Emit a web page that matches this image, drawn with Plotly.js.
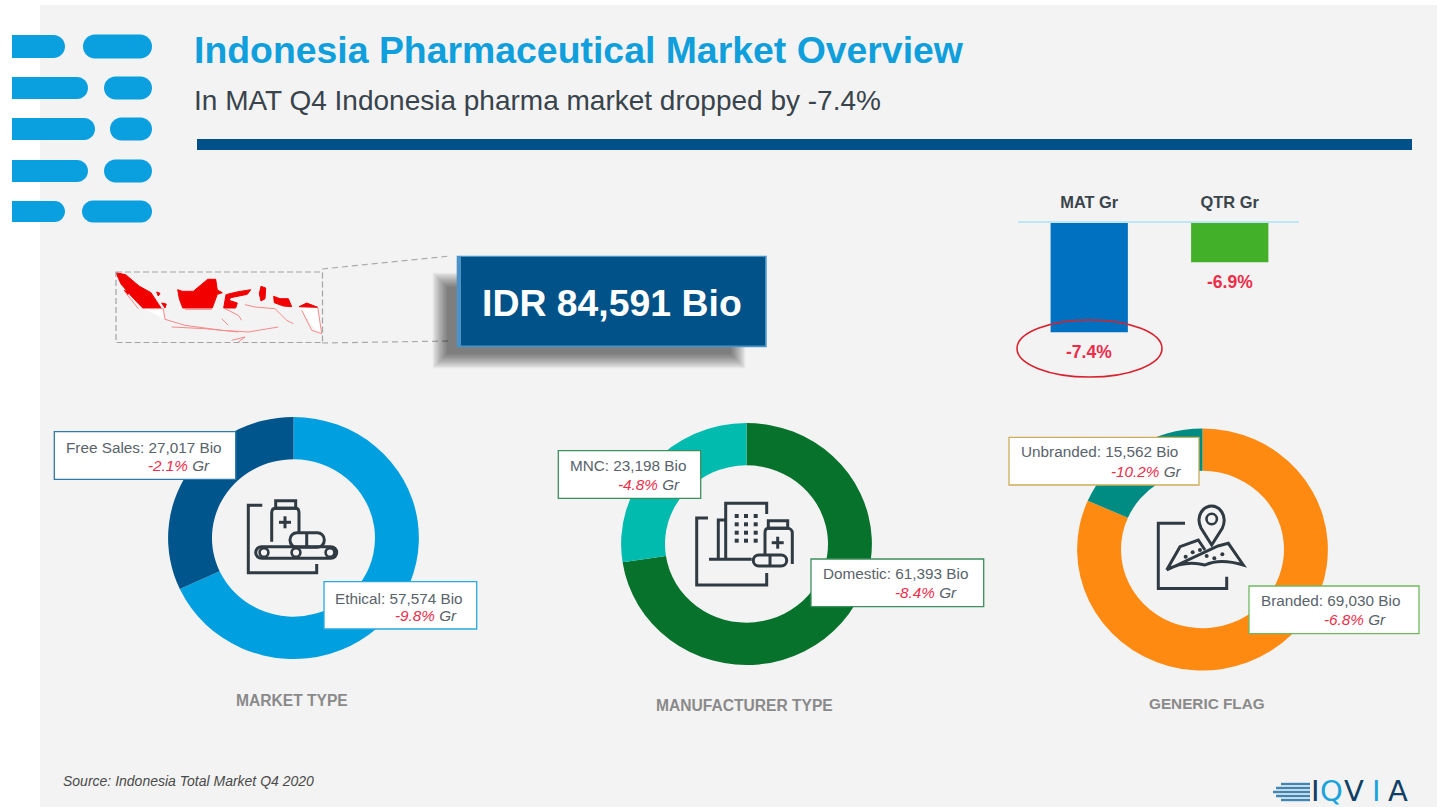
<!DOCTYPE html>
<html>
<head>
<meta charset="utf-8">
<script src="https://cdn.plot.ly/plotly-3.0.1.min.js"></script>
<style>html,body{margin:0;padding:0;background:#fff}#c{width:1437px;height:807px}</style>
</head>
<body>
<div id="c"></div>
<script>
// ---- data ----
const marketTypeLabels = ['Ethical', 'Free Sales'];
const marketTypeValues = [57574, 27017];
const marketTypeGrowth = ['-9.8%', '-2.1%'];
const marketTypeColors = ['#009FDF', '#00558C'];

const manufacturerLabels = ['Domestic', 'MNC'];
const manufacturerValues = [61393, 23198];
const manufacturerGrowth = ['-8.4%', '-4.8%'];
const manufacturerColors = ['#06722B', '#00BBAE'];

const genericLabels = ['Branded', 'Unbranded'];
const genericValues = [69030, 15562];
const genericGrowth = ['-6.8%', '-10.2%'];
const genericColors = ['#FF8A12', '#008C82'];

const growthCategories = ['MAT Gr', 'QTR Gr'];
const growthValues = [-7.4, -6.9];
const growthColors = ['#0070C0', '#43B02A'];

const titleText = 'Indonesia Pharmaceutical Market Overview';
const subtitleText = 'In MAT Q4 Indonesia pharma market dropped by -7.4%';
const totalText = 'IDR 84,591 Bio';
const sourceText = 'Source: Indonesia Total Market Q4 2020';
const groupNames = ['MARKET TYPE', 'MANUFACTURER TYPE', 'GENERIC FLAG'];

// ---- helpers: page pixels to paper coordinates ----
const W = 1437, H = 807, FONT = 'Liberation Sans, Arial, sans-serif';
const RED = '#EC2D4A', INK = '#2F3A42';
const px = x => x / W, py = y => 1 - y / H;
const P = d => d.replace(/(-?[\d.]+)[ ,](-?[\d.]+)/g, (m, a, b) => px(+a).toFixed(6) + ',' + py(+b).toFixed(6));
const shapes = [], notes = [];
const rect = (x0, y0, x1, y1, fill, line, lw, layer, op) => shapes.push({type:'rect', xref:'paper', yref:'paper',
  x0:px(x0), x1:px(x1), y0:py(y0), y1:py(y1), fillcolor:fill || 'rgba(0,0,0,0)',
  line:{color:line || 'rgba(0,0,0,0)', width:lw || 0}, layer:layer || 'above', opacity:op === undefined ? 1 : op});
const circ = (cx, cy, rx, ry, fill, line, lw) => shapes.push({type:'circle', xref:'paper', yref:'paper',
  x0:px(cx-rx), x1:px(cx+rx), y0:py(cy+ry), y1:py(cy-ry), fillcolor:fill || 'rgba(0,0,0,0)',
  line:{color:line || 'rgba(0,0,0,0)', width:lw || 0}, layer:'above'});
const path = (d, fill, line, lw, dash) => shapes.push({type:'path', xref:'paper', yref:'paper', path:P(d),
  fillcolor:fill || 'rgba(0,0,0,0)', line:{color:line || 'rgba(0,0,0,0)', width:lw || 0, dash:dash || 'solid'}, layer:'above'});
const T = (text, x, y, size, color, anchor, extra) => notes.push(Object.assign({xref:'paper', yref:'paper',
  x:px(x), y:py(y), text, showarrow:false, xanchor:anchor || 'left', yanchor:'middle', borderpad:0,
  font:{family:FONT, size, color}}, extra || {}));
const roundRect = (x0, y0, x1, y1, r) => {
  const k = r * 0.45;
  return `M${x0+r} ${y0} L${x1-r} ${y0} C${x1-k} ${y0} ${x1} ${y0+k} ${x1} ${y0+r} L${x1} ${y1-r} C${x1} ${y1-k} ${x1-k} ${y1} ${x1-r} ${y1} L${x0+r} ${y1} C${x0+k} ${y1} ${x0} ${y1-k} ${x0} ${y1-r} L${x0} ${y0+r} C${x0} ${y0+k} ${x0+k} ${y0} ${x0+r} ${y0} Z`;
};
const flatPill = (x0, y0, x1, y1) => {
  const r = (y1-y0)/2, k = r*0.45;
  return `M${x0} ${y0} L${x1-r} ${y0} C${x1-k} ${y0} ${x1} ${y0+k} ${x1} ${y0+r} C${x1} ${y1-k} ${x1-k} ${y1} ${x1-r} ${y1} L${x0} ${y1} Z`;
};

// ---- slide background ----
rect(40, 5, W, H, '#F3F3F3', null, 0, 'below');

// ---- logo pills ----
const BLUE = '#0A9FDF';
[[12,65,35,58,83,152],[12,88,77,99,104,152],[12,95,118,140,110,152],[12,88,160,182,104,152],[12,65,201,222,82,152]]
.forEach(r => {
  path(flatPill(r[0], r[2], r[1], r[3]), BLUE);
  path(roundRect(r[4], r[2]-0.5, r[5], r[3]+0.5, (r[3]-r[2]+1)/2), BLUE);
});

// ---- header ----
T(titleText, 193, 50, 37.4, '#0F9FDC', 'left', {font:{family:FONT, size:37.4, color:'#0F9FDC', weight:700}});
T(subtitleText, 193, 100, 28, '#38434B');
rect(197, 139, 1412, 150, '#00508A');

// ---- map ----
const MAPRED = '#F20000';
const mp = pts => 'M' + pts.map(p => (105+p[0]/3).toFixed(1) + ' ' + (262+p[1]/3).toFixed(1)).join(' L') ;
path(mp([[585,138],[640,138],[650,215],[620,190]]) + ' Z', '#FFFFFF');
path(mp([[115,138],[175,138],[175,170]]) + ' Z', '#FFFFFF');
const mapFill = [
  [[33,32],[62,38],[102,72],[138,92],[168,138],[113,138],[82,106],[48,66]],
  [[218,83],[232,88],[265,88],[308,52],[332,52],[337,84],[352,92],[337,97],[322,138],[233,138],[223,110]],
  [[356,138],[363,98],[395,90],[437,83],[427,97],[377,107],[372,115],[397,123],[392,138]],
  [[468,73],[482,78],[480,110],[468,117],[463,95]],
  [[506,103],[525,110],[550,110],[560,134],[535,132],[508,122]],
  [[582,134],[605,123],[638,136]],
  [[155,90],[165,94],[160,102]],
  [[170,123],[184,126],[180,138]],
  [[58,85],[72,92],[68,98]]
];
mapFill.forEach(p => path(mp(p) + ' Z', MAPRED, MAPRED, 1));
[
  [[135,140],[175,140],[180,172],[240,190],[350,205],[430,210],[520,195]],
  [[638,135],[650,215],[620,205],[590,145]],
  [[240,142],[320,142]],
  [[360,140],[400,160],[410,175]],
  [[420,128],[450,135],[510,140],[545,175],[565,185]],
  [[350,170],[370,190]],
  [[60,90],[100,140]],
  [[200,195],[300,200],[400,210]],
  [[380,235],[420,225],[400,240]]
].forEach(p => path(mp(p), null, '#F68A8A', 1));
rect(116, 272, 322.5, 342.5, null, '#A3A3A3', 1.2);
shapes[shapes.length-1].line.dash = '6px,3px';
path('M322 269 L450 256', null, '#ABABAB', 1.2, '6px,4px');
path('M322 343 L450 341', null, '#ABABAB', 1.2, '6px,4px');

// ---- total box ----
for (let i = 0; i < 12; i++) rect(447-i*1.3, 287-i*1.3, 731+i*1.3, 354+i*1.3, '#000000', null, 0, 'above', 0.052);
rect(456.7, 255.7, 766.7, 347.3, '#4A93C6');
rect(461, 257, 765, 345.5, '#005288');
T(totalText, 612, 303, 37.4, '#FFFFFF', 'center', {font:{family:FONT, size:37.4, color:'#FFFFFF', weight:700}});

// ---- growth highlight ----
circ(1089.5, 348.5, 72.5, 28.5, null, '#D8222E', 1.6);

// ---- callouts ----
const fmt = v => v.toLocaleString('en-US');
function callout(box, border, label, value, growth, tx, ty, rx, ry, size) {
  rect(box[0], box[1], box[2], box[3], '#FFFFFF', border, 1.3);
  T(label + ': ' + fmt(value) + ' Bio', tx, ty, size, '#59636B');
  T(`<i><span style="color:${RED}">${growth}</span> Gr</i>`, rx, ry, size, '#59636B', 'right');
}
const CS = 15.3;
callout([54.3,431.7,235.7,479.3], '#2E7AA8', marketTypeLabels[1], marketTypeValues[1], marketTypeGrowth[1], 65, 447.7, 211, 465, CS);
callout([324,581.7,476.7,629], '#2AA9DE', marketTypeLabels[0], marketTypeValues[0], marketTypeGrowth[0], 334, 598, 458, 615.7, CS);
callout([558.3,450.7,700.7,498.3], '#3C8F5C', manufacturerLabels[1], manufacturerValues[1], manufacturerGrowth[1], 569, 465, 681, 484, CS);
callout([811,559,983.7,606.7], '#3C8F5C', manufacturerLabels[0], manufacturerValues[0], manufacturerGrowth[0], 821.7, 573.3, 958, 592.7, CS);
callout([1009,437.3,1199,485], '#CBAE5A', genericLabels[1], genericValues[1], genericGrowth[1], 1020, 451.7, 1183, 471, CS);
callout([1249,586,1419,633.7], '#70BA5E', genericLabels[0], genericValues[0], genericGrowth[0], 1259.7, 600.7, 1387, 619.3, CS);

// ---- group captions, source ----
const capFont = s => ({font:{family:FONT, size:s, color:'#8A8A8A', weight:700}});
T(groupNames[0], 292, 700, 15.6, '#8A8A8A', 'center', capFont(15.6));
T(groupNames[1], 744.5, 705.5, 15.6, '#8A8A8A', 'center', capFont(15.6));
T(groupNames[2], 1207, 703, 15.3, '#8A8A8A', 'center', capFont(15.3));
T('<i>' + sourceText + '</i>', 62, 781, 14, '#4A4A4A');

// ---- IQVIA mark ----
[[1281,1310,784],[1276,1310,788],[1273,1310,792],[1276,1310,796],[1281,1310,800]].forEach(l =>
  path(`M${l[0]} ${l[2]} L${l[1]} ${l[2]}`, null, '#3F86B5', 2.4));
[['I',1315.5,'#0F3F66'],['Q',1331,'#1BA3DC'],['V',1354,'#0F3F66'],['I',1376,'#1BA3DC'],['A',1398,'#0F3F66']].forEach(l =>
  T(l[0], l[1], 790.5, 29, l[2], 'center', {font:{family:'DejaVu Sans', size:29, color:l[2]}}));

// ---- icons ----
const I = (d, fill) => path(d, fill || null, fill ? null : INK, fill ? 0 : 3);
// conveyor icon
I('M262.3 505.3 L248.3 505.3 L248.3 572.7 L316.7 572.7 L316.7 564');
I('M275.7 500.7 L295.7 500.7 L295.7 508.3 L275.7 508.3 Z');
I('M271.7 541.7 L271.7 513 C271.7 510 273 508.3 275.7 508.3 L295.7 508.3 C298 508.3 299 510 299 513 L299 532.7');
I('M279 522.3 L291 522.3'); I('M285 516.3 L285 528.3');
I(roundRect(290, 532.7, 324.3, 547.3, 7)); I('M306.7 532.7 L306.7 547.3');
I(roundRect(255.7, 546.7, 336.7, 558.3, 5.8));
[264, 296, 330].forEach(x => circ(x, 552.5, 4.4, 4.4, '#F3F3F3', INK, 2.6));
// building icon
I('M708 518 L696.7 518 L696.7 585 L766.7 585 L766.7 573');
I('M725.7 560 L725.7 503.3 L766.7 503.3 L766.7 514');
I('M718.3 560 L718.3 520 L725.7 520');
I('M709 559.3 L751.7 559.3');
[736.7, 746, 755.7].forEach(x => [516, 524.3, 532.7, 540.7].forEach(y => rect(x-2, y-2, x+2, y+2, INK)));
I('M768.3 520.7 L787.7 520.7 L787.7 528.3 L768.3 528.3 Z');
I('M765 555 L765 533 C765 530 766 528.3 768.3 528.3 L787.7 528.3 C790 528.3 792.3 530 792.3 533 L792.3 564');
I('M771.7 542.7 L783.7 542.7'); I('M777.7 536.7 L777.7 548.7');
I(roundRect(753.3, 555, 786.7, 566, 5.5)); I('M770 555 L770 566');
// map icon
I('M1185 523.3 L1158.3 523.3 L1158.3 588.5 L1226.7 588.5 L1226.7 576.7');
I('M1211.7 545 L1201 528 C1195 515 1204 506 1211.7 506 C1219 506 1228 515 1222.4 528 Z');
circ(1211.7, 519, 5.2, 5.2, null, INK, 2.6);
I('M1166.7 570 L1180 546.7 L1198.3 540 L1205 550 M1218 546 L1228.3 543.3 L1243.3 565 Q1220 558 1205 565 Q1185 560 1166.7 570 Z');
[[122,185],[143,172],[165,165],[185,183],[208,190],[232,178]].forEach(d => circ(1145+d[0]/3, 495+d[1]/3, 2, 2, INK));

// ---- value labels on the growth bars ----
growthCategories.forEach((c, i) => notes.push({xref:'x', yref:'y', x:c, y:growthValues[i], yshift:-20,
  text:'<b>' + growthValues[i].toFixed(1) + '%</b>', showarrow:false, xanchor:'center', yanchor:'middle',
  font:{family:FONT, size:17.5, color:RED}}));

// ---- traces ----
const R = 123;
const donut = (labels, values, colors, cx, cy) => ({
  type:'pie', labels, values, hole:0.65, sort:false, direction:'clockwise', rotation:0,
  textinfo:'none', hoverinfo:'label+value', showlegend:false,
  marker:{colors, line:{width:0}},
  domain:{x:[px(cx-R), px(cx+R)], y:[py(cy+R), py(cy-R)]}
});
const donutCenters = [[293.5, 538], [746.5, 544], [1202.5, 549.5]];
const traces = [
  {type:'bar', x:growthCategories, y:growthValues, width:0.55, marker:{color:growthColors}, hoverinfo:'x+y', showlegend:false},
  donut(marketTypeLabels, marketTypeValues, marketTypeColors, ...donutCenters[0]),
  donut(manufacturerLabels, manufacturerValues, manufacturerColors, ...donutCenters[1]),
  donut(genericLabels, genericValues, genericColors, ...donutCenters[2])
];

const layout = {
  width:W, height:H, margin:{l:0, r:0, t:0, b:0}, autosize:false,
  paper_bgcolor:'#FFFFFF', plot_bgcolor:'rgba(0,0,0,0)', showlegend:false,
  font:{family:FONT},
  xaxis:{domain:[px(1018), px(1299)], type:'category', side:'top', anchor:'y', fixedrange:true,
    range:[-0.507, 1.493], showline:true, linecolor:'#BDE7F5', linewidth:2, showgrid:false, zeroline:false,
    ticks:'outside', ticklen:6, tickcolor:'rgba(0,0,0,0)',
    tickfont:{family:FONT, size:16.4, color:'#3A444C', weight:700}},
  yaxis:{domain:[py(401), py(223)], range:[-7.891, -6.62], visible:false, fixedrange:true, zeroline:false, showgrid:false},
  shapes, annotations:notes
};
Plotly.newPlot('c', traces, layout, {displayModeBar:false}).then(gd => {
  // the reference's donuts are slightly wider than tall
  document.querySelectorAll('.pielayer .trace').forEach((g, i) => {
    const [cx, cy] = donutCenters[i];
    g.setAttribute('transform', `translate(${cx},${cy}) scale(1.0195,0.984) translate(${-cx},${-cy})`);
  });
});
</script>
</body>
</html>
